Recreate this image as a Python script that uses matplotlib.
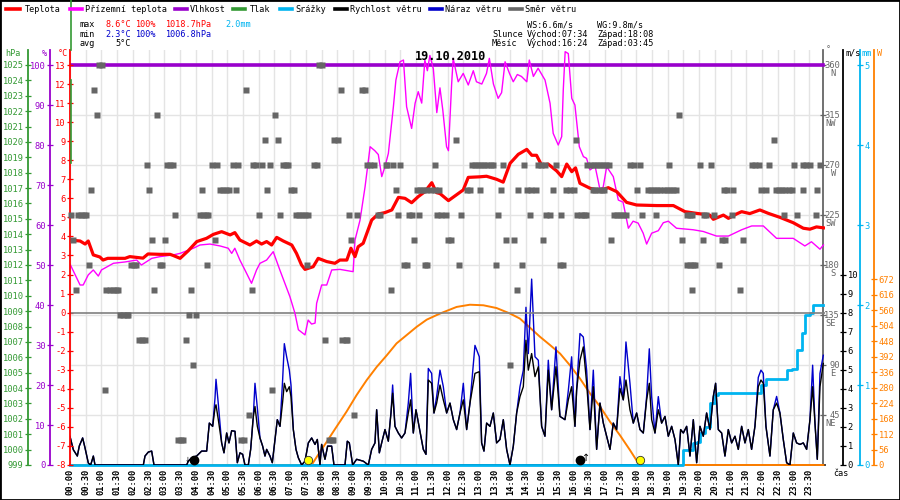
import matplotlib
matplotlib.use('Agg')
import matplotlib.pyplot as plt
from matplotlib.lines import Line2D
from matplotlib.patches import Rectangle
import numpy as np

# ---------------- data ----------------
temp_h = [0, 0.32, 0.48, 0.58, 0.74, 0.95, 1.05, 1.2, 1.75, 1.9,
          2.32, 2.48, 2.86, 3.18, 3.28, 3.5, 3.76, 4.03, 4.34, 4.56,
          4.82, 5.09, 5.24, 5.4, 5.72, 5.93, 6.09, 6.25, 6.41, 6.57,
          6.78, 7.05, 7.2, 7.36, 7.47, 7.73, 7.89, 8.16, 8.42, 8.58,
          8.8, 8.93, 9.06, 9.16, 9.32, 9.59, 9.8, 10.01, 10.23, 10.44,
          10.65, 10.86, 11.07, 11.28, 11.5, 11.65, 11.76, 12.03, 12.5, 12.66,
          13.03, 13.24, 13.56, 13.77, 13.99, 14.25, 14.52, 14.68, 14.83, 14.99,
          15.2, 15.47, 15.63, 15.79, 15.95, 16.07, 16.21, 16.53, 16.85, 17.11,
          17.38, 17.69, 18.01, 18.65, 19.18, 19.34, 19.55, 19.92, 20.34, 20.45,
          20.77, 20.93, 21.19, 21.35, 21.61, 21.93, 22.2, 22.57, 22.99, 23.31,
          23.52, 23.73, 23.95]
temp_c = [3.81, 3.76, 3.6, 3.76, 3.03, 2.92, 2.76, 2.85, 2.85, 2.94,
          2.86, 3.08, 3.06, 3.06, 3.0, 2.85, 3.25, 3.73, 3.9, 4.11,
          4.25, 4.08, 4.2, 3.81, 3.55, 3.76, 3.6, 3.73, 3.55, 3.95,
          3.76, 3.55, 3.11, 2.5, 2.27, 2.41, 2.85, 2.68, 2.59, 2.76,
          2.76, 3.38, 2.94, 3.46, 3.64, 4.86, 5.18, 5.25, 5.39, 6.05,
          6.0, 5.77, 6.09, 6.35, 6.82, 6.3, 6.25, 5.88, 6.44, 7.1,
          7.13, 7.16, 7.0, 6.85, 7.84, 8.31, 8.57, 8.26, 8.26, 7.75,
          7.8, 7.44, 7.14, 7.8, 7.4, 7.6, 6.79, 6.53, 6.4, 6.56,
          6.35, 5.79, 5.65, 5.62, 5.62, 5.48, 5.3, 5.21, 5.12, 4.9,
          5.12, 4.95, 5.18, 5.3, 5.2, 5.39, 5.21, 5.0, 4.72, 4.43,
          4.38, 4.5, 4.45]

app_h = [0, 0.32, 0.42, 0.58, 0.74, 0.9, 1.0, 1.38, 1.75, 2.12,
         2.27, 2.6, 2.86, 3.28, 3.5, 3.92, 4.13, 4.45, 4.77, 5.03,
         5.14, 5.24, 5.4, 5.56, 5.77, 5.93, 6.04, 6.25, 6.46, 6.67,
         6.99, 7.15, 7.26, 7.47, 7.57, 7.68, 7.79, 7.84, 8.0, 8.16,
         8.32, 8.58, 9.0, 9.06, 9.22, 9.38, 9.54, 9.69, 9.8, 9.91,
         10.01, 10.12, 10.28, 10.36, 10.49, 10.6, 10.7, 10.86, 10.97, 11.07,
         11.18, 11.28, 11.36, 11.44, 11.55, 11.66, 11.76, 11.85, 11.97, 12.03,
         12.13, 12.18, 12.34, 12.5, 12.66, 12.82, 12.92, 13.09, 13.24, 13.33,
         13.46, 13.61, 13.72, 13.83, 13.97, 14.09, 14.22, 14.35, 14.52, 14.6,
         14.73, 14.88, 15.1, 15.26, 15.36, 15.52, 15.63, 15.68, 15.74, 15.84,
         15.95, 16.05, 16.19, 16.32, 16.42, 16.53, 16.69, 16.85, 16.95, 17.06,
         17.27, 17.43, 17.58, 17.75, 17.9, 18.06, 18.22, 18.33, 18.49, 18.7,
         18.86, 19.02, 19.28, 19.81, 20.13, 20.55, 20.93, 21.35, 21.67, 22.04,
         22.46, 22.99, 23.36, 23.57, 23.84, 23.95]
app_c = [2.55, 1.45, 1.45, 1.98, 2.24, 1.92, 2.24, 2.59, 2.66, 2.76,
         2.5, 2.85, 2.94, 3.03, 3.11, 3.38, 3.55, 3.6, 3.5, 3.38,
         3.11, 3.38, 2.76, 2.24, 1.54, 2.24, 2.59, 2.76, 3.2, 2.24,
         0.84, -0.03, -0.9, -1.17, -0.39, -0.6, -0.55, 0.49, 1.45, 1.45,
         2.24, 2.27, 2.15, 3.81, 4.86, 6.61, 8.71, 8.5, 8.3, 7.14,
         7.65, 8.36, 10.81, 12.21, 13.17, 13.26, 10.81, 9.67, 10.99, 11.6,
         11.0, 13.26, 12.7, 13.5, 12.8, 10.5, 11.8, 10.64, 8.71, 8.5,
         11.95, 13.35, 12.12, 12.56, 11.95, 12.7, 12.12, 12.0, 12.56, 13.35,
         12.0, 11.25, 11.55, 13.17, 12.56, 12.12, 12.5, 12.4, 12.12, 13.26,
         12.4, 12.83, 12.21, 10.99, 9.41, 8.8, 9.24, 11.69, 13.7, 13.6,
         11.25, 10.9, 8.71, 8.19, 8.1, 7.49, 7.7, 6.44, 6.6, 7.66,
         7.14, 5.91, 5.8, 4.43, 4.8, 4.7, 4.17, 3.6, 4.17, 4.3,
         4.72, 4.8, 4.43, 4.35, 4.26, 4.02, 4.02, 4.35, 4.55, 4.55,
         3.9, 3.9, 3.5, 3.72, 3.33, 3.55]

hum_h = [0, 23.95]
hum_pct = [100, 100]

wind_h = [0.0, 0.106, 0.233, 0.296, 0.402, 0.477, 0.583, 0.657, 0.742, 0.795,
          0.848, 2.331, 2.384, 2.49, 2.596, 2.67, 2.755, 3.708, 3.761, 3.867,
          4.026, 4.185, 4.344, 4.429, 4.535, 4.609, 4.641, 4.715, 4.821, 4.895,
          4.98, 5.054, 5.139, 5.245, 5.319, 5.404, 5.488, 5.562, 5.668, 5.743,
          5.827, 5.88, 5.955, 6.039, 6.124, 6.198, 6.251, 6.357, 6.431, 6.516,
          6.59, 6.675, 6.76, 6.813, 6.887, 6.972, 7.025, 7.099, 7.184, 7.258,
          7.364, 7.47, 7.576, 7.682, 7.788, 7.862, 7.946, 7.999, 8.105, 8.19,
          8.317, 8.391, 8.741, 8.815, 8.879, 8.985, 9.112, 9.324, 9.483, 9.589,
          9.695, 9.748, 9.833, 9.907, 10.013, 10.119, 10.203, 10.256, 10.33, 10.436,
          10.542, 10.648, 10.754, 10.828, 10.913, 10.998, 11.104, 11.231, 11.316, 11.39,
          11.496, 11.57, 11.655, 11.761, 11.867, 11.973, 12.079, 12.185, 12.291, 12.397,
          12.503, 12.609, 12.714, 12.873, 13.011, 13.085, 13.159, 13.244, 13.35, 13.456,
          13.562, 13.668, 13.774, 13.88, 13.986, 14.092, 14.198, 14.304, 14.41, 14.494,
          14.569, 14.675, 14.781, 14.887, 14.992, 15.098, 15.204, 15.31, 15.448, 15.575,
          15.734, 15.84, 15.946, 16.052, 16.105, 16.211, 16.317, 16.423, 16.529, 16.635,
          16.741, 16.847, 16.953, 17.059, 17.165, 17.27, 17.376, 17.482, 17.588, 17.673,
          17.8, 17.906, 18.012, 18.118, 18.224, 18.33, 18.415, 18.489, 18.595, 18.701,
          18.807, 18.913, 19.019, 19.125, 19.231, 19.337, 19.411, 19.496, 19.602, 19.708,
          19.814, 19.92, 20.025, 20.131, 20.237, 20.343, 20.449, 20.523, 20.608, 20.714,
          20.82, 20.926, 21.032, 21.138, 21.244, 21.35, 21.456, 21.562, 21.667, 21.773,
          21.879, 21.964, 22.038, 22.123, 22.25, 22.356, 22.462, 22.568, 22.674, 22.78,
          22.886, 22.992, 23.098, 23.204, 23.31, 23.416, 23.522, 23.607, 23.681, 23.755,
          23.84, 23.946]
wind_ms = [1.5, 0.8, 0.47, 1.0, 1.42, 0.9, 0.1, 0, 0.47, 0,
           0, 0, 0.47, 0.68, 0.73, 0, 0, 0, 0.2, 0.38,
           0.47, 0.73, 0.73, 2.2, 2.03, 2.99, 3.16, 2.38, 1.16, 0.64,
           1.68, 1.16, 1.8, 1.77, 0.12, 0.64, 0.56, 0, 0, 0.82,
           2.55, 3.07, 2.03, 1.42, 0.99, 0.47, 0.82, 0.47, 0.12, 1.34,
           2.38, 2.03, 3.33, 4.29, 3.85, 4.11, 3.59, 1.86, 0.82, 0.38,
           0, 0.2, 1.16, 1.42, 1.08, 1.34, 0, 1.08, 0.3, 0.99,
           0.99, 0, 0, 1.25, 1.16, 0, 0.3, 0.2, 0, 0.82,
           1.16, 2.9, 0.64, 1.16, 1.86, 1.25, 2.73, 3.77, 2.03, 1.68,
           1.42, 1.68, 2.73, 3.42, 1.68, 2.9, 1.94, 0.82, 0.56, 4.46,
           4.29, 2.73, 3.25, 4.2, 3.42, 2.73, 3.25, 2.38, 1.86, 2.73,
           3.42, 1.86, 3.25, 4.81, 4.9, 1.16, 0.73, 2.2, 2.03, 2.73,
           1.16, 1.34, 2.38, 0.82, 0, 0.99, 2.73, 3.59, 4.11, 6.55,
           4.98, 5.85, 4.64, 5.16, 2.03, 1.51, 4.98, 2.9, 5.16, 2.55,
           2.38, 3.42, 4.11, 2.03, 3.94, 5.5, 6.2, 4.29, 1.86, 4.11,
           0.82, 3.25, 2.2, 1.51, 0.82, 2.2, 1.86, 4.03, 3.42, 4.46,
           2.9, 2.2, 2.73, 1.86, 1.68, 3.42, 4.29, 2.38, 1.68, 2.9,
           2.2, 2.55, 1.51, 2.03, 1.34, 0, 1.86, 1.68, 2.03, 0.47,
           2.38, 0.12, 2.03, 1.51, 2.73, 1.86, 3.59, 4.29, 1.86, 1.68,
           0.47, 1.86, 1.16, 1.51, 0.82, 2.03, 1.16, 1.86, 0.82, 2.03,
           4.11, 4.46, 4.29, 2.03, 0.47, 2.9, 3.25, 2.73, 1.34, 0.12,
           0, 1.68, 1.16, 1.08, 1.16, 0.82, 2.38, 4.11, 2.2, 0.3,
           4.11, 5.33]
gust_ms = [1.5, 0.8, 0.47, 1.0, 1.42, 0.9, 0.1, 0, 0.47, 0,
           0, 0, 0.47, 0.68, 0.73, 0, 0, 0, 0.2, 0.38,
           0.47, 0.73, 0.73, 2.2, 2.03, 3.5, 4.5, 3.2, 1.16, 0.64,
           1.68, 1.16, 1.8, 1.77, 0.12, 0.64, 0.56, 0, 0, 0.82,
           2.55, 4.29, 3.0, 1.42, 0.99, 0.47, 0.82, 0.47, 0.12, 1.34,
           2.38, 2.03, 4.5, 6.37, 5.68, 4.98, 4.2, 1.86, 0.82, 0.38,
           0, 0.2, 1.16, 1.42, 1.08, 1.34, 0, 1.08, 0.3, 0.99,
           0.99, 0, 0, 1.25, 1.16, 0, 0.3, 0.2, 0, 0.82,
           1.16, 2.9, 0.64, 1.16, 1.86, 1.25, 2.73, 4.2, 2.03, 1.68,
           1.42, 1.68, 3.25, 4.81, 1.68, 2.9, 1.94, 0.82, 0.56, 5.07,
           4.81, 2.73, 3.6, 4.98, 4.11, 2.73, 3.25, 2.38, 1.86, 2.73,
           4.29, 1.86, 3.25, 6.28, 5.68, 1.16, 0.73, 2.2, 2.03, 2.73,
           1.16, 1.34, 2.38, 0.82, 0, 0.99, 2.73, 4.11, 4.98, 8.28,
           5.85, 9.76, 5.68, 5.5, 2.03, 1.51, 5.5, 2.9, 6.2, 2.55,
           2.38, 3.9, 5.68, 2.03, 3.94, 6.9, 6.72, 4.98, 1.86, 4.98,
           0.82, 3.25, 2.2, 1.51, 0.82, 2.2, 1.86, 4.64, 3.42, 6.46,
           4.29, 2.2, 2.73, 1.86, 1.68, 3.6, 6.1, 3.59, 1.68, 3.59,
           2.2, 2.55, 1.51, 2.03, 1.34, 0, 1.86, 1.68, 2.03, 0.47,
           2.38, 0.12, 2.03, 1.51, 2.73, 1.86, 3.59, 4.29, 1.86, 1.68,
           0.47, 1.86, 1.16, 1.51, 0.82, 2.03, 1.16, 1.86, 0.82, 2.03,
           4.6, 4.98, 4.81, 2.03, 0.47, 2.9, 3.6, 2.73, 1.34, 0.12,
           0, 1.68, 1.16, 1.08, 1.16, 0.82, 2.38, 5.24, 2.2, 0.3,
           4.81, 5.76]

solar_h = [0, 7.68, 7.95, 8.16, 8.47, 8.79, 9.11, 9.43, 9.75, 10.07,
           10.38, 10.7, 11.02, 11.34, 11.76, 12.29, 12.71, 13.14, 13.56, 13.99,
           14.3, 14.62, 14.94, 15.26, 15.58, 15.89, 16.21, 16.53, 16.85, 17.17,
           17.48, 17.8, 18.07, 18.15, 23.95]
solar_w = [0, 0, 48, 84, 138, 193, 253, 307, 355, 397,
           440, 470, 500, 526, 548, 572, 580, 578, 568, 548,
           530, 497, 464, 434, 403, 361, 313, 259, 211, 156,
           108, 54, 6, 0, 0]

rain_h = [0, 19.34, 19.5, 19.81, 19.92, 20.03, 20.18, 20.34, 20.5, 20.6,
          21.88, 21.98, 22.14, 22.67, 22.78, 22.94, 23.1, 23.26, 23.36, 23.52,
          23.63, 23.95]
rain_mm = [0, 0, 0.19, 0.27, 0.29, 0.4, 0.48, 0.77, 0.875, 0.9,
           0.9, 1.0, 1.08, 1.08, 1.19, 1.2, 1.44, 1.65, 1.875, 1.9,
           2.0, 2.0]

# wind direction samples (hours) for each compass direction
dir_360 = [0.92, 1.02, 7.92, 8.0]
dir_337 = [0.75, 5.58, 8.6, 9.27, 9.37]
dir_315 = [0.85, 2.75, 6.52, 19.36]
dir_292 = [6.2, 6.6, 8.4, 8.52, 12.27, 16.1, 22.38]
dir_270 = [2.44, 3.08, 3.18, 3.28, 4.5, 4.66, 5.17, 5.33, 5.83, 5.9, 6.1, 6.35,
           6.76, 6.86, 6.94, 7.75, 7.85, 9.45, 9.55, 9.65, 10.03, 10.08, 10.27,
           10.5, 11.6, 12.77, 12.87, 12.97, 13.07, 13.17, 13.27, 13.37, 13.45,
           13.75, 14.43, 14.88, 14.98, 15.1, 15.45, 16.45, 16.55, 16.65, 16.75,
           16.85, 16.95, 17.05, 17.13, 17.8, 17.93, 18.12, 19.04, 20.03, 20.37,
           21.68, 21.78, 21.9, 22.22, 23.0, 23.29, 23.39, 23.52, 23.84]
dir_247 = [0.67, 2.51, 4.19, 4.77, 4.87, 4.97, 5.07, 5.28, 6.25, 7.03, 7.12,
           10.35, 11.03, 11.13, 11.23, 11.33, 11.47, 11.6, 11.73, 12.63, 12.7,
           13.03, 13.69, 14.24, 14.53, 14.65, 14.8, 15.34, 15.76, 15.9, 16.02,
           16.61, 16.7, 16.8, 16.9, 16.97, 18.03, 18.37, 18.47, 18.57, 18.67,
           18.77, 18.87, 18.97, 19.07, 19.17, 19.25, 20.79, 20.9, 21.07, 21.96,
           22.14, 22.44, 22.54, 22.64, 22.74, 22.84, 22.95, 23.3, 23.73]
dir_225 = [0.02, 0.24, 0.34, 0.44, 0.5, 3.34, 4.13, 4.23, 4.33, 4.39, 6.0,
           6.68, 7.18, 7.28, 7.38, 7.48, 7.57, 8.86, 9.11, 9.78, 9.87, 10.43,
           10.78, 10.87, 11.1, 11.68, 11.78, 11.94, 12.42, 13.6, 14.62, 15.13,
           15.26, 15.6, 16.13, 16.23, 16.33, 16.39, 17.29, 17.39, 17.49, 17.59,
           17.67, 18.19, 18.62, 19.6, 19.7, 19.77, 20.15, 20.21, 20.47, 21.04,
           22.7, 23.1, 23.7]
dir_202 = [0.08, 2.6, 3.02, 4.61, 8.93, 10.93, 12.0, 12.1, 13.86, 14.11, 15.02,
           17.2, 19.44, 20.12, 20.72, 20.82, 21.38]
dir_180 = [0.6, 1.93, 2.03, 2.1, 2.86, 2.94, 4.34, 7.52, 10.63, 10.72, 11.28,
           11.35, 12.37, 13.54, 14.36, 15.58, 15.68, 19.6, 19.7, 19.8, 19.86, 20.62]
dir_157 = [0.18, 1.16, 1.26, 1.36, 1.46, 1.54, 2.67, 3.85, 5.79, 10.2, 14.21,
           19.77, 21.3]
dir_135 = [1.6, 1.7, 1.8, 1.85, 3.78, 4.0]
dir_112 = [2.18, 2.28, 2.37, 3.69, 8.1, 8.66, 8.76, 8.8]
dir_90 = [3.92, 13.99]
dir_67 = [1.11, 6.42]
dir_45 = [5.69, 9.02]
dir_22 = [3.42, 3.52, 3.6, 5.43, 5.53, 8.22, 8.32, 8.37]

sunrise_h, sunset_h = 7 + 34 / 60, 18 + 8 / 60
moonrise_h, moonset_h = 16 + 24 / 60, 3 + 45 / 60

time_labels = ['%02d:%02d' % (i // 2, 30 * (i % 2)) for i in range(48)]
hpa_ticks = list(range(999, 1026))
pct_ticks = list(range(0, 101, 10))
temp_ticks = list(range(-8, 14))
dir_ticks = [45, 90, 135, 180, 225, 270, 315, 360]
dir_names = ['NE', 'E', 'SE', 'S', 'SW', 'W', 'NW', 'N']
ms_ticks = list(range(0, 11))
mm_ticks = list(range(0, 6))
w_ticks = list(range(0, 673, 56))

# ---------------- colors / layout ----------------
RED = '#ff0000'
MAG = '#ff00ff'
PUR = '#9900cc'
GRN = '#339933'
CYAN = '#00b4f0'
BLU = '#0000cc'
GRY = '#666666'
ORG = '#ff8000'

W, H = 900, 500
L, R, T, B = 70, 825, 50, 465
K = (B - T) / 400.0   # 400 px hold the labelled ranges


def rect(l, t, r, b):
    return [l / W, 1 - b / H, (r - l) / W, (b - t) / H]


def fx(x):
    return x / W


def fy(y):
    return 1 - y / H


MONO = 'DejaVu Sans Mono'
plt.rcParams['font.family'] = [MONO, 'DejaVu Sans']

fig = plt.figure(figsize=(9, 5), dpi=100)
ax = fig.add_axes(rect(L, T, R, B))
ax_w = ax.twinx()
ax_mm = ax.twinx()
ax_ms = ax.twinx()
ax_hum = ax.twinx()
ax_p = ax.twinx()
ax_t = ax.twinx()
ax_d = ax.twinx()


def setup(a, side, xpx, color, lim, ticks, labels, size=6.3):
    a.set_ylim(*lim)
    for s in a.spines.values():
        s.set_visible(False)
    sp = a.spines[side]
    sp.set_visible(True)
    sp.set_color(color)
    sp.set_linewidth(1.3)
    sp.set_position(('axes', (xpx - L) / (R - L)))
    if side == 'left':
        a.yaxis.tick_left()
    else:
        a.yaxis.tick_right()
    a.set_yticks(ticks)
    a.set_yticklabels(labels)
    a.tick_params(axis='y', direction='inout', length=4.5, width=0.9,
                  color=color, labelcolor=color, labelsize=size, pad=1)


ax.set_xlim(0, 24)
setup(ax, 'right', 823, GRY, (0, 360 * K), dir_ticks, [''] * len(dir_ticks))
ax.spines['bottom'].set_visible(True)
ax.spines['bottom'].set_color('black')
ax.spines['bottom'].set_linewidth(1.2)
ax.set_xticks(np.arange(48) * 0.5)
ax.set_xticklabels(time_labels, rotation=90, fontsize=6.3, fontweight='bold')
ax.tick_params(axis='x', length=0, pad=3)
ax.grid(True, color='#e4e4e4', lw=1.0)
ax.set_axisbelow(True)
xdir = (823 - L) / (R - L)
for d, n in zip(dir_ticks, dir_names):
    ax.annotate(str(d), xy=(xdir, d), xycoords=ax.get_yaxis_transform(),
                xytext=(12.2, 0), textcoords='offset points', va='center', ha='right',
                fontsize=6.3, color=GRY, annotation_clip=False)
    ax.annotate(n, xy=(xdir, d), xycoords=ax.get_yaxis_transform(),
                xytext=(9.2, -6.4), textcoords='offset points', va='center', ha='right',
                fontsize=6.3, color=GRY, annotation_clip=False)

setup(ax_w, 'right', 874, ORG, (0, 672 * 400 / 185.7 * K), w_ticks, [str(v) for v in w_ticks])
setup(ax_mm, 'right', 860, CYAN, (0, 5 * K), mm_ticks, [str(v) for v in mm_ticks])
setup(ax_ms, 'right', 843, 'black', (0, 21 * K), ms_ticks, [str(v) for v in ms_ticks])
setup(ax_hum, 'left', 50, PUR, (0, 100 * K), pct_ticks, [str(v) for v in pct_ticks])
setup(ax_p, 'left', 28, GRN, (999, 999 + 26 * K), hpa_ticks, [str(v) for v in hpa_ticks])
setup(ax_t, 'left', 70, RED, (-8, -8 + 21 * K), temp_ticks, [str(v) for v in temp_ticks])
ax_d.set_ylim(0, 360 * K)
for s in ax_d.spines.values():
    s.set_visible(False)
ax_d.set_yticks([])

# ---------------- series ----------------
ax_w.plot(solar_h, solar_w, color=ORG, lw=1.4, clip_on=False)
ax_mm.plot(rain_h, rain_mm, color=CYAN, lw=2.0, clip_on=False, drawstyle='steps-post')
ax_ms.plot(wind_h, gust_ms, color=BLU, lw=1.0)
ax_ms.plot(wind_h, wind_ms, color='black', lw=1.0)
ax_hum.plot(hum_h, hum_pct, color=PUR, lw=2.6)
ax_t.axhline(0, color='#808080', lw=1.2)
ax_t.plot(app_h, app_c, color=MAG, lw=1.0)
ax_t.plot(temp_h, temp_c, color=RED, lw=2.3)

groups = [(dir_360, 360), (dir_337, 337.5), (dir_315, 315), (dir_292, 292.5),
          (dir_270, 270), (dir_247, 247.5), (dir_225, 225), (dir_202, 202.5),
          (dir_180, 180), (dir_157, 157.5), (dir_135, 135), (dir_112, 112.5),
          (dir_90, 90), (dir_67, 67.5), (dir_45, 45), (dir_22, 22.5)]
dh = [h for g, d in groups for h in g]
dd = [d for g, d in groups for h in g]
ax_d.plot(dh, dd, 's', ms=4.2, color=GRY, mec='none', clip_on=False)

# sun / moon markers
xt = ax_t.get_xaxis_transform()
ax_t.plot([sunrise_h, sunset_h], [0.013, 0.013], 'o', transform=xt, ms=6,
          mfc='#ffff00', mec='#333333', mew=0.6, clip_on=False)
ax_t.plot([moonset_h + 0.2, moonrise_h - 0.18], [0.013, 0.013], 'o', transform=xt,
          ms=6, mfc='black', mec='black', clip_on=False)
ax_t.text(moonrise_h, 0.005, '↑', transform=xt, ha='center', va='bottom',
          fontsize=7, family='DejaVu Sans')
ax_t.text(moonset_h, 0.005, '↓', transform=xt, ha='center', va='bottom',
          fontsize=5, family='DejaVu Sans')

# ---------------- figure texts ----------------
fig.add_artist(Line2D([fx(70.5), fx(70.5)], [fy(0), fy(50)], color=GRN, lw=1.2))
fig.add_artist(Line2D([fx(70.5), fx(70.5)], [fy(80), fy(163)], color=GRN, lw=1.2))

FS = 6.1


def ftext(x, y, s, color='black', **kw):
    fig.text(fx(x), fy(y), s, color=color, fontsize=kw.pop('fontsize', FS),
             va='center', ha=kw.pop('ha', 'left'), **kw)


legend = [(6, 20, 25, 'Teplota', RED), (70, 82, 85, 'Přízemní teplota', MAG),
          (175, 187, 190, 'Vlhkost', PUR), (233, 245, 250, 'Tlak', GRN),
          (280, 292, 295, 'Srážky', CYAN), (335, 347, 350, 'Rychlost větru', 'black'),
          (430, 442, 445, 'Náraz větru', BLU), (510, 522, 525, 'Směr větru', GRY)]
for x0, x1, xt_, lab, c in legend:
    fig.add_artist(Line2D([fx(x0), fx(x1)], [fy(9), fy(9)], color=c, lw=2.6))
    ftext(xt_, 9, lab)

ftext(80, 24.5, 'max')
ftext(105, 24.5, '8.6°C', RED)
ftext(135, 24.5, '100%', RED)
ftext(165, 24.5, '1018.7hPa', RED)
ftext(225, 24.5, '2.0mm', CYAN)
ftext(80, 34.5, 'min')
ftext(105, 34.5, '2.3°C', BLU)
ftext(135, 34.5, '100%', BLU)
ftext(165, 34.5, '1006.8hPa', BLU)
ftext(80, 44, 'avg')
ftext(115, 44, '5°C')
ftext(527, 24.5, 'WS:6.6m/s')
ftext(597, 24.5, 'WG:9.8m/s')
ftext(492, 34.5, 'Slunce')
ftext(527, 34.5, 'Východ:07:34')
ftext(597, 34.5, 'Západ:18:08')
ftext(492, 44, 'Měsíc')
ftext(527, 44, 'Východ:16:24')
ftext(597, 44, 'Západ:03:45')
ftext(450, 57, '19.10.2010', fontsize=8.6, fontweight='bold', ha='center')

ftext(5, 54, 'hPa', GRN)
ftext(42, 54, '%', PUR)
ftext(58, 54, '°C', RED)
ftext(826, 50, '°', GRY)
ftext(845, 53, 'm/s')
ftext(862, 53, 'mm', CYAN)
ftext(877, 53, 'W', ORG)
ftext(833, 474, 'čas')

fig.add_artist(Rectangle((0, 0), 1, 1, transform=fig.transFigure, fill=False,
                         ec='black', lw=2))

fig.savefig('out.png', dpi=100, facecolor='white')
